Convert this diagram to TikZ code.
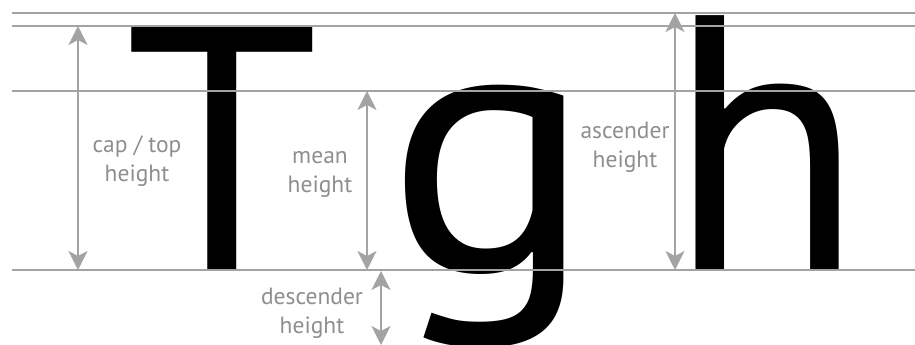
\documentclass[tikz,border=0pt]{standalone}
\usepackage{fontspec}
\usetikzlibrary{arrows.meta}
\newfontfamily\glyphfont{PT Sans}
\newfontfamily\lblfont{PT Sans}
\definecolor{guidegray}{HTML}{A3A3A3}
\definecolor{textgray}{HTML}{8E8E8E}
\tikzset{
  guide/.style={draw=guidegray, line width=2pt},
  dimarrow/.style={draw=guidegray, line width=1.8pt,
    {Stealth[length=19pt,width=19pt,inset=5pt]}-{Stealth[length=19pt,width=19pt,inset=5pt]}},
  lbl/.style={anchor=base, align=center, inner sep=0pt, text=textgray,
    font=\lblfont\fontsize{23.5}{29}\selectfont},
  glyph/.style={anchor=base, inner sep=0pt, text=black}
}
\begin{document}
\begin{tikzpicture}[x=1pt,y=-1pt]
\useasboundingbox (0,0) rectangle (915,345);
% guide line ends
\coordinate (topL) at (12,13);   \coordinate (topR) at (915,13);
\coordinate (capL) at (12,26);   \coordinate (capR) at (915,26);
\coordinate (meanL) at (12,91);  \coordinate (meanR) at (915,91);
\coordinate (baseL) at (12,270); \coordinate (baseR) at (915,270);
% big glyphs
\node[glyph, font=\glyphfont\fontsize{348.6}{350}\selectfont] (T) at (222,270) {T};
\node[glyph, font=\glyphfont\fontsize{357}{360}\selectfont] (g) at (490,270) {\scalebox{1.08}[1.02]{g}};
\node[glyph, font=\glyphfont\fontsize{357}{360}\selectfont] (h) at (766,270) {\scalebox{1}[1.02]{h}};
% guide lines
\draw[guide] (topL) -- (topR);
\draw[guide] (capL) -- (capR);
\draw[guide] (meanL) -- (meanR);
\draw[guide] (baseL) -- (baseR);
% dimension arrow ends
\coordinate (capTop) at (78,26);    \coordinate (capBot) at (78,270);
\coordinate (meanTop) at (367,91);  \coordinate (meanBot) at (367,270);
\coordinate (ascTop) at (675,13);   \coordinate (ascBot) at (675,270);
\coordinate (descTop) at (381,271); \coordinate (descBot) at (381,345);
\draw[dimarrow] (capTop) -- (capBot);
\draw[dimarrow] (meanTop) -- (meanBot);
\draw[dimarrow] (ascTop) -- (ascBot);
\draw[dimarrow] (descTop) -- (descBot);
% labels (anchored at the baseline of the last line)
\node[lbl] (capLbl) at (137,181) {cap / top\\height};
\node[lbl] (meanLbl) at (320,192) {mean\\height};
\node[lbl] (ascLbl) at (625,167) {ascender\\height};
\node[lbl] (descLbl) at (312,333) {descender\\height};
\end{tikzpicture}
\end{document}
